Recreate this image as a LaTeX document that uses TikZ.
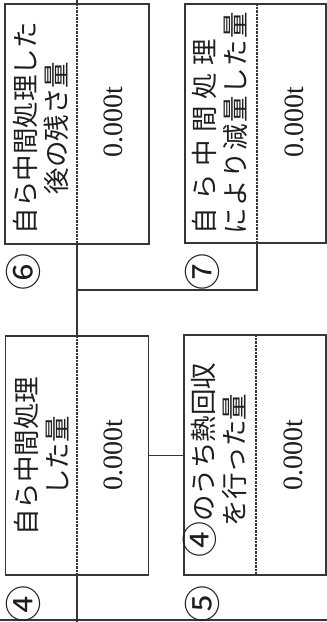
\documentclass[tikz,border=0pt]{standalone}
\usepackage{fontspec}
\setmainfont{Liberation Serif}
\newfontfamily\jp{Noto Sans CJK JP}
\definecolor{lc}{HTML}{363636}
\definecolor{tc}{HTML}{1E1E1E}
\newcommand{\mycircnum}[1]{\smash{\fontsize{36}{31}\selectfont #1}}
\newcommand{\mylabel}[1]{\kern-17pt#1}
\begin{document}
\begin{tikzpicture}[x=1pt,y=-1pt,
  ln/.style={draw=lc,line width=1.8pt},
  box/.style={draw=lc,line width=1.8pt,rectangle,inner sep=0pt},
  div/.style={draw=lc,line width=1.3pt,dash pattern=on 0.7pt off 0.7pt},
  ttl/.style={rotate=90,font=\jp\fontsize{26.5}{31}\selectfont,align=center,inner sep=0pt,text=tc},
  val/.style={rotate=90,font=\fontsize{28}{30}\selectfont,inner sep=0pt,text=tc},
  num/.style={rotate=90,font=\jp\fontsize{37}{40}\selectfont,inner sep=0pt,text=tc}]
\useasboundingbox (0,0) rectangle (327,622);
% boxes
\node[box,minimum width=144pt,minimum height=240pt] (b6) at (77,124) {};
\node[box,minimum width=141pt,minimum height=239pt] (b7) at (255.5,123.5) {};
\node[box,minimum width=143pt,minimum height=239pt] (b4) at (77,455.5) {};
\node[box,minimum width=142pt,minimum height=240pt] (b5) at (255,455) {};
% dividers
\coordinate (d6t) at (77,4);   \coordinate (d6b) at (77,244);
\coordinate (d7t) at (257,4);  \coordinate (d7b) at (257,243);
\coordinate (d4t) at (77,336); \coordinate (d4b) at (77,575);
\coordinate (d5t) at (256,335);\coordinate (d5b) at (256,575);
\draw[div] (d6t) -- (d6b);
\draw[div] (d7t) -- (d7b);
\draw[div] (d4t) -- (d4b);
\draw[div] (d5t) -- (d5b);
% connectors
\coordinate (top) at (77,0);
\coordinate (bot) at (77,622);
\coordinate (j6) at (77,290);
\coordinate (j7) at (257,290);
\coordinate (bl) at (0,620);
\coordinate (br) at (327,620);
\draw[ln] (top) -- (b6.north);
\draw[ln] (b6.south) -- (b4.north);
\draw[ln] (b4.south) -- (bot);
\draw[ln] (j6) -- (j7) -- (d7b);
\draw[ln] (b4.east) -- (b4.east -| b5.west);
\draw[ln] (bl) -- (br);
% titles
\node[ttl] (t6) at (41,128) {自ら中間処理した\\後の残さ量};
\node[ttl,align=left] (t7) at (220,123) {\makebox[195pt][s]{自\hfil ら\hfil 中\hfil 間\hfil 処\hfil 理}\\\makebox[222pt][s]{に\hfil よ\hfil り\hfil 減\hfil 量\hfil し\hfil た\hfil 量}};
\node[ttl] (t4) at (42,456) {自ら中間処理\\した量};
\node[ttl] (t5) at (219,460) {\mycircnum{④}のうち熱回収\\を行った量};
% values
\node[val] (v6) at (113,122) {0.000t};
\node[val] (v7) at (294,122) {0.000t};
\node[val] (v4) at (113,455) {0.000t};
\node[val] (v5) at (293,455) {0.000t};
% labels
\node[num] (n6) at (23,263) {\mylabel{⑥}};
\node[num] (n7) at (202,263) {\mylabel{⑦}};
\node[num] (n4) at (23,595) {\mylabel{④}};
\node[num] (n5) at (202,595) {\mylabel{⑤}};
\end{tikzpicture}
\end{document}
